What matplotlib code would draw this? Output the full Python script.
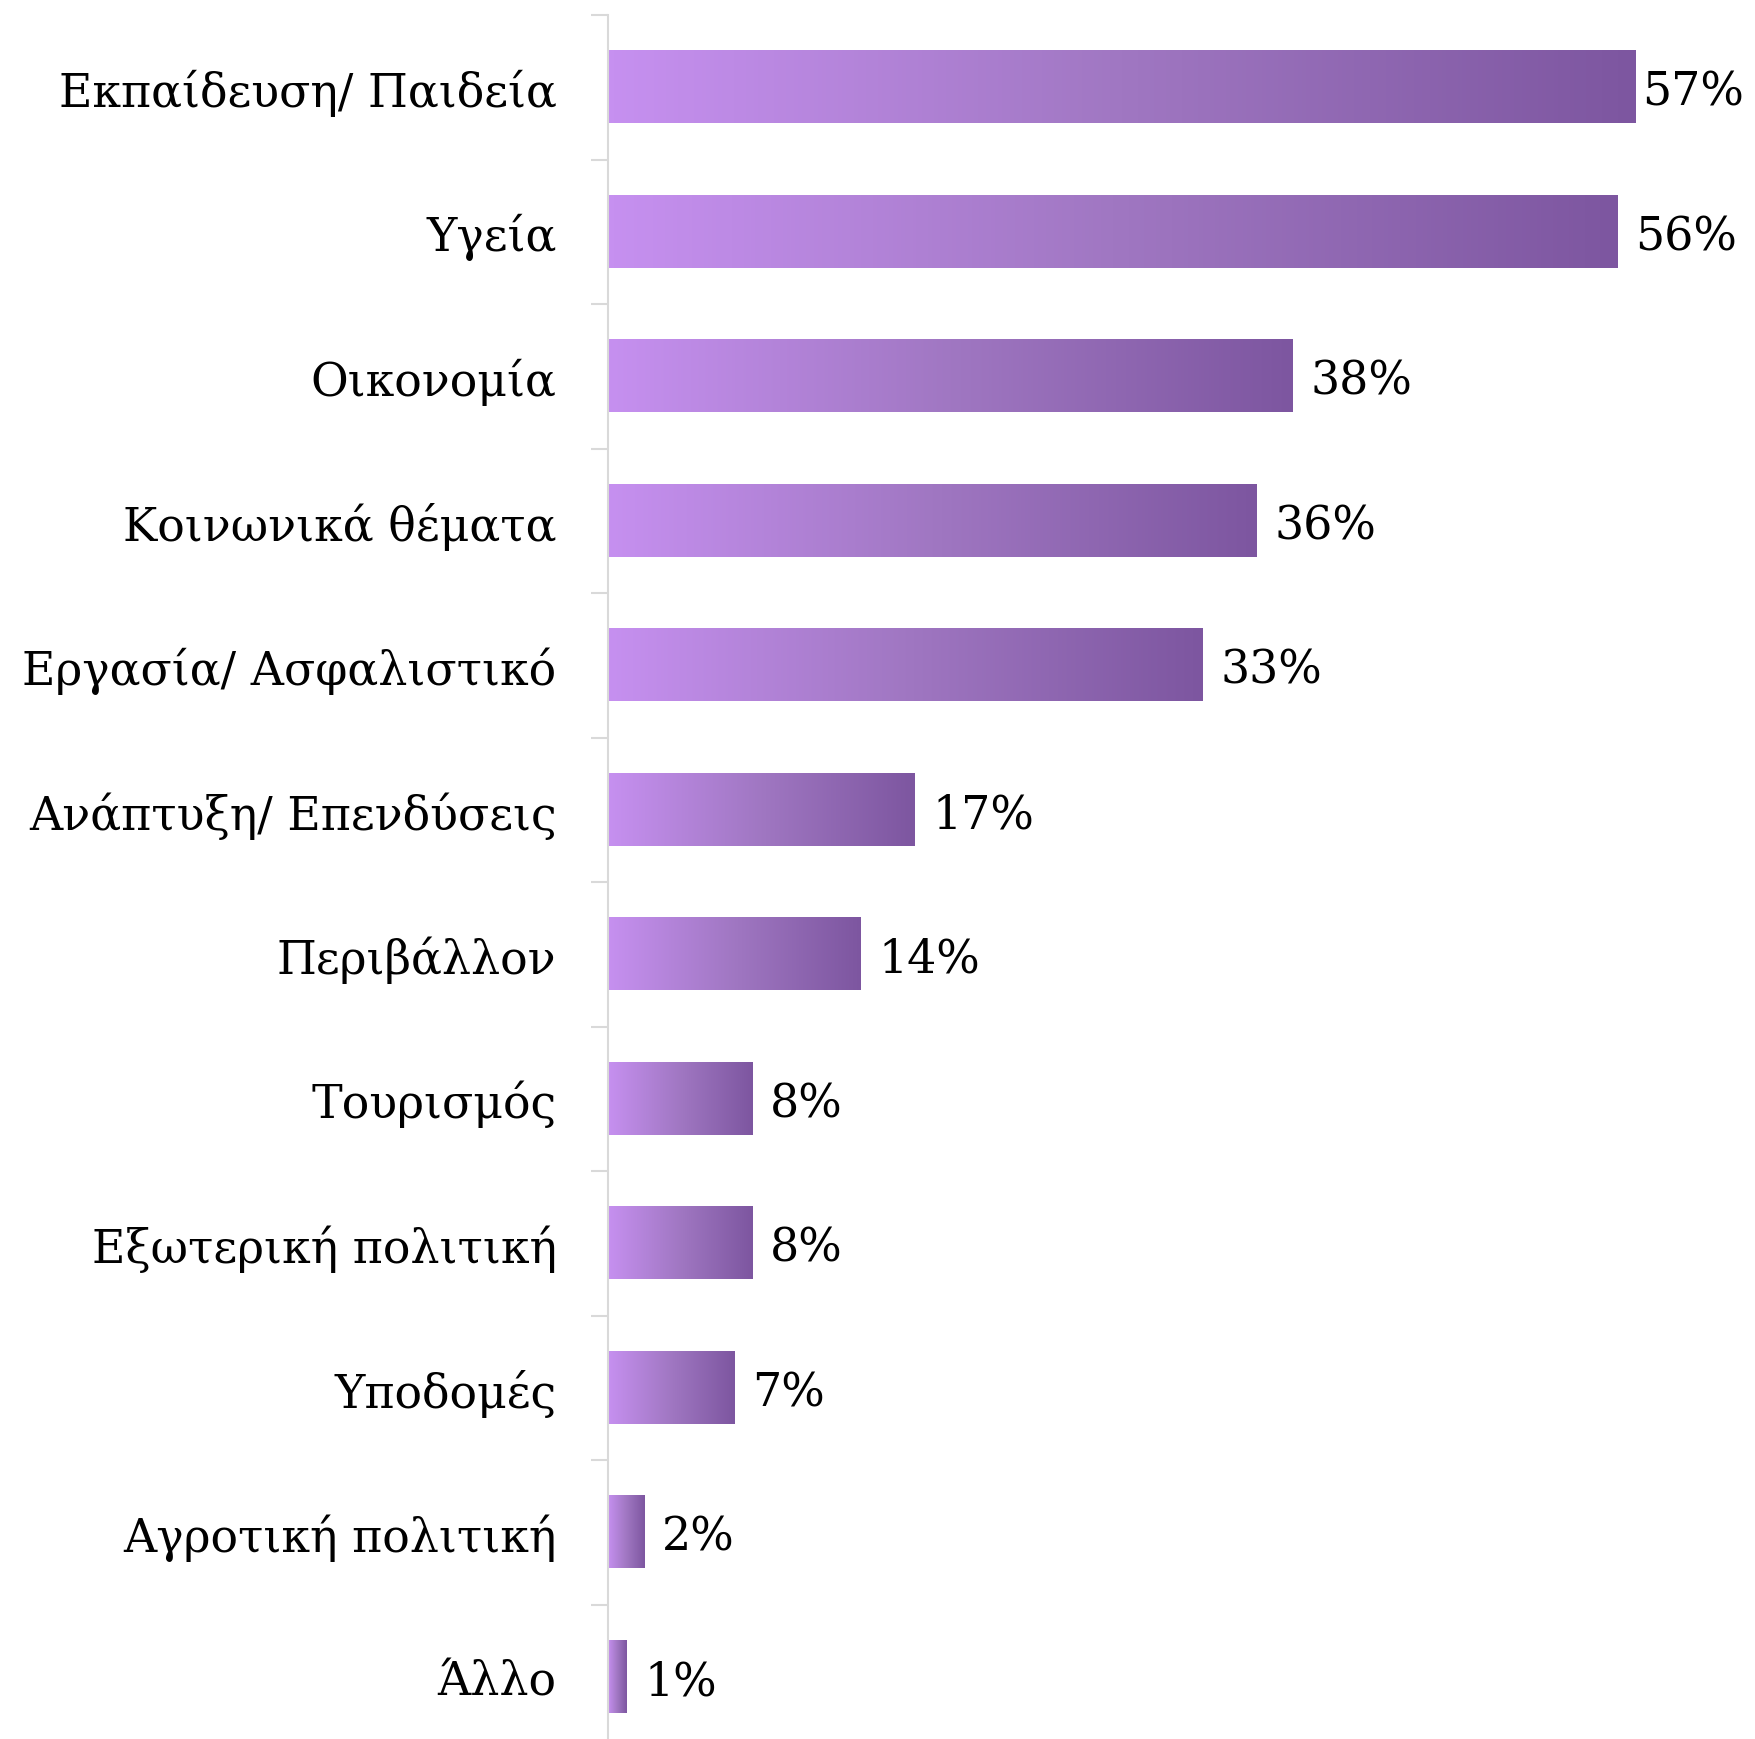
import numpy as np
import matplotlib
matplotlib.use('Agg')
import matplotlib.pyplot as plt
from matplotlib.colors import LinearSegmentedColormap

# Data
categories = ['Εκπαίδευση/ Παιδεία', 'Υγεία', 'Οικονομία', 'Κοινωνικά θέματα',
              'Εργασία/ Ασφαλιστικό', 'Ανάπτυξη/ Επενδύσεις', 'Περιβάλλον',
              'Τουρισμός', 'Εξωτερική πολιτική', 'Υποδομές', 'Αγροτική πολιτική', 'Άλλο']
values = [57, 56, 38, 36, 33, 17, 14, 8, 8, 7, 2, 1]
value_labels = ['57%', '56%', '38%', '36%', '33%', '17%', '14%', '8%', '8%', '7%', '2%', '1%']

plt.rcParams['font.family'] = ['DejaVu Serif', 'Liberation Serif']

W, H = 1756, 1740
fig = plt.figure(figsize=(W / 100, H / 100), dpi=100)
ax = fig.add_axes([608 / W, -10 / H, 1 - 608 / W, 1 - 6 / H])

grad = LinearSegmentedColormap.from_list('purp', ['#C690F0', '#A077C2', '#7D56A0'])
ramp = np.linspace(0, 1, 256).reshape(1, -1)

bar_h = 0.5
for i, v in enumerate(values):
    ax.imshow(ramp, cmap=grad, aspect='auto', interpolation='bicubic',
              extent=[0, v, i + bar_h / 2, i - bar_h / 2], zorder=2)

ax.set_xlim(0, 63.7)
ax.set_ylim(len(categories) - 0.5, -0.5)

# value labels, kept inside the figure
fig.canvas.draw()
renderer = fig.canvas.get_renderer()
for i, (v, lab) in enumerate(zip(values, value_labels)):
    t = ax.annotate(lab, (v, i), xytext=(13, 0), textcoords='offset points',
                    ha='left', va='center_baseline', fontsize=33, color='black')
    bb = t.get_window_extent(renderer)
    if bb.x1 > W - 12:
        t.set_position((13 - (bb.x1 - W + 12) * 72 / 100, 0))

ax.set_yticks(range(len(categories)))
ax.set_yticklabels(categories, fontsize=33, color='black')
ax.set_yticks(np.arange(-0.5, len(categories), 1), minor=True)
ax.tick_params(axis='y', which='major', length=0, pad=37)
ax.tick_params(axis='y', which='minor', length=12, width=1.5, color='#D9D9D9')
ax.set_xticks([])

for s in ['top', 'right', 'bottom']:
    ax.spines[s].set_visible(False)
ax.spines['left'].set_color('#D9D9D9')
ax.spines['left'].set_linewidth(1.5)

fig.savefig('out.png', dpi=100)
